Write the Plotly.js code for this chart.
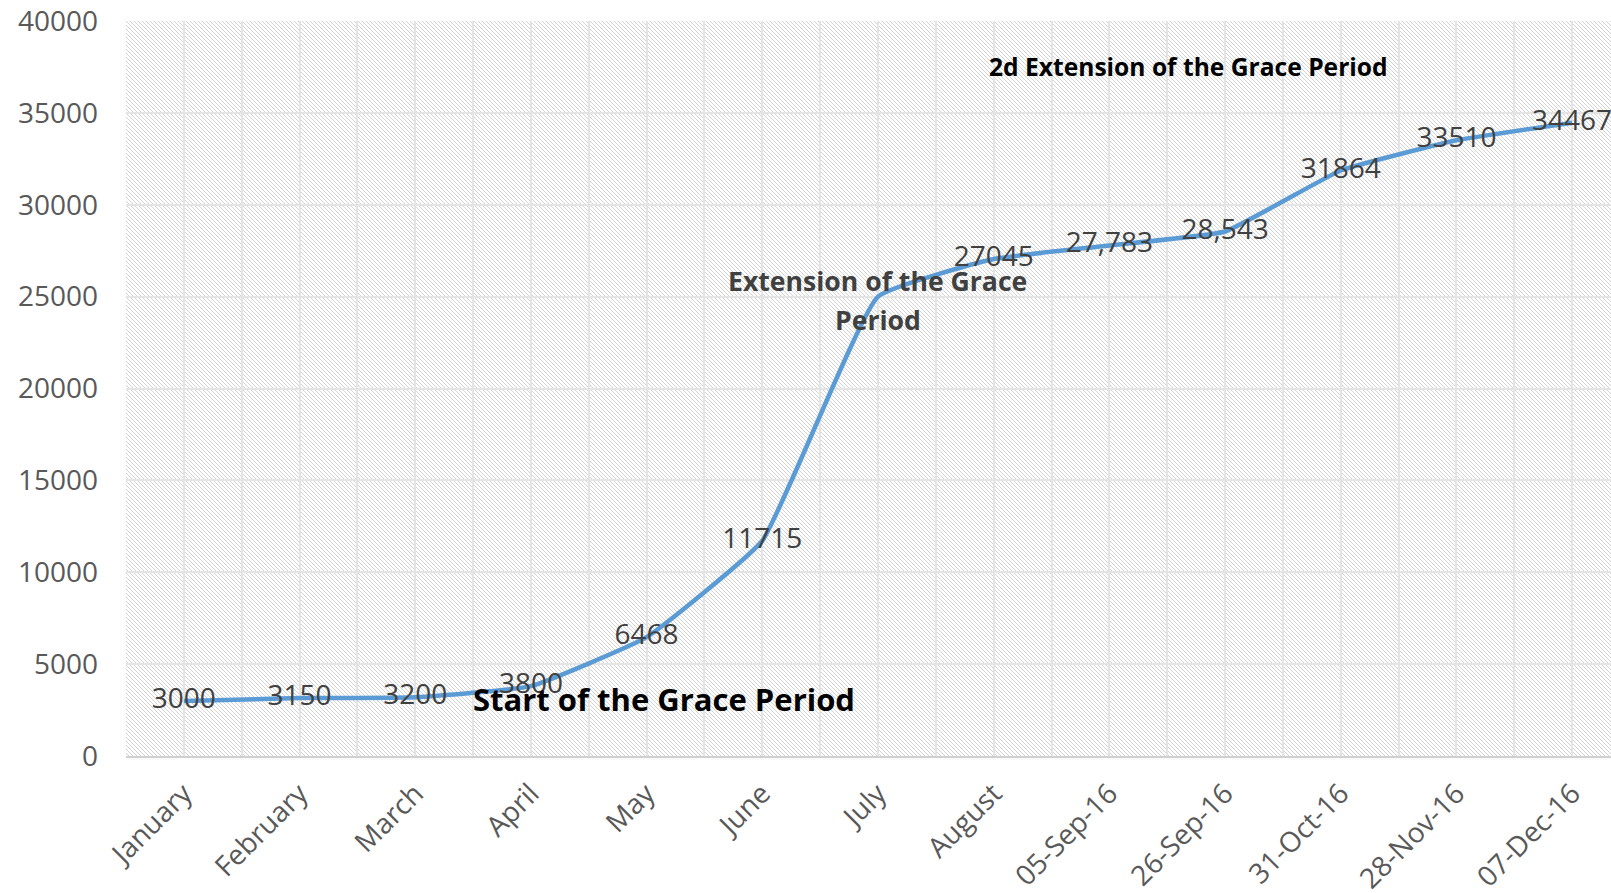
<!DOCTYPE html>
<html>
<head>
<meta charset="utf-8">
<script src="https://cdn.plot.ly/plotly-3.0.1.min.js"></script>
<style>
  html, body { margin: 0; padding: 0; background: #ffffff; }
  #chart { width: 1611px; height: 893px; }
</style>
</head>
<body>
<div id="chart"></div>
<script>
// ---- data ----
const categories = ["January", "February", "March", "April", "May", "June", "July",
  "August", "05-Sep-16", "26-Sep-16", "31-Oct-16", "28-Nov-16", "07-Dec-16"];
const values = [3000, 3150, 3200, 3800, 6468, 11715, 25000, 27045, 27783, 28543, 31864, 33510, 34467];
const valueLabels = ["3000", "3150", "3200", "3800", "6468", "11715", "", "27045", "27,783", "28,543", "31864", "33510", "34467"];
const yTicks = [0, 5000, 10000, 15000, 20000, 25000, 30000, 35000, 40000];

const notes = [
  { text: "Start of the Grace Period", cat: 4.15, val: 3100, size: 31, color: "#000000" },
  { text: "Extension of the Grace", cat: 6.0, val: 25870, size: 26.6, color: "#404040" },
  { text: "Period", cat: 6.0, val: 23750, size: 26.6, color: "#404040" },
  { text: "2d Extension of the Grace Period", cat: 8.68, val: 37550, size: 24.6, color: "#000000" }
];

// ---- build ----
const idx = categories.map((c, i) => i);
const minorVals = [];
for (let i = 0; i <= categories.length; i++) minorVals.push(i - 0.5);

const W = 1611, H = 893;
const M = { l: 126, r: 0, t: 21, b: 137 };
const pw = W - M.l - M.r, ph = H - M.t - M.b;

// hatch pattern background for the plot area
const svg = `<svg xmlns="http://www.w3.org/2000/svg" width="${pw}" height="${ph}" viewBox="0 0 ${pw} ${ph}" preserveAspectRatio="none" shape-rendering="crispEdges">
<defs><pattern id="p" width="4" height="4" patternUnits="userSpaceOnUse">
<rect width="4" height="4" fill="#ffffff"/>
<rect x="0" y="0" width="1" height="1" fill="#d3d3d3"/>
<rect x="1" y="1" width="1" height="1" fill="#d3d3d3"/>
<rect x="2" y="2" width="1" height="1" fill="#d3d3d3"/>
<rect x="3" y="3" width="1" height="1" fill="#d3d3d3"/>
</pattern></defs>
<rect width="${pw}" height="${ph}" fill="url(#p)"/></svg>`;
const bgUri = "data:image/svg+xml;base64," + btoa(svg);

const font = "Open Sans, Noto Sans, Arial, sans-serif";

const trace = {
  type: "scatter",
  mode: "lines+text",
  x: idx,
  y: values,
  text: valueLabels,
  textposition: "middle center",
  textfont: { family: font, size: 28, color: "#404040" },
  line: { color: "#5B9BD5", width: 4.5, shape: "spline", smoothing: 0.35 },
  cliponaxis: false,
  hoverinfo: "skip"
};

const layout = {
  width: W, height: H,
  margin: M,
  paper_bgcolor: "#ffffff",
  plot_bgcolor: "#ffffff",
  showlegend: false,
  font: { family: font, color: "#595959" },
  xaxis: {
    range: [-0.5, 12 + (1611 - 1572) / 116],
    tickmode: "array",
    tickvals: idx,
    ticktext: categories,
    tickangle: -45,
    tickfont: { family: font, size: 28, color: "#595959" },
    showgrid: true,
    gridcolor: "#e4e4e4",
    gridwidth: 2,
    minor: { tickmode: "array", tickvals: minorVals, showgrid: true, gridcolor: "#e4e4e4", gridwidth: 2 },
    showline: true,
    linecolor: "#d0d0d0",
    linewidth: 2,
    ticks: "",
    zeroline: false,
    ticklabelstandoff: 8,
    fixedrange: true
  },
  yaxis: {
    range: [0, 40000],
    tickmode: "array",
    tickvals: yTicks,
    ticktext: yTicks.map(String),
    tickfont: { family: font, size: 28, color: "#595959" },
    showgrid: true,
    gridcolor: "#e4e4e4",
    gridwidth: 2,
    zeroline: false,
    showline: false,
    ticks: "",
    ticklabelstandoff: 27,
    fixedrange: true
  },
  images: [{
    source: bgUri,
    xref: "paper", yref: "paper",
    x: 0, y: 1, sizex: 1, sizey: 1,
    xanchor: "left", yanchor: "top",
    sizing: "stretch",
    layer: "below"
  }],
  annotations: notes.map(n => ({
    x: n.cat, y: n.val, xref: "x", yref: "y",
    text: "<b>" + n.text + "</b>",
    showarrow: false,
    xanchor: "center", yanchor: "middle",
    align: "center",
    font: { family: font, size: n.size, color: n.color }
  }))
};

Plotly.newPlot("chart", [trace], layout, { staticPlot: true, displayModeBar: false });
</script>
</body>
</html>
